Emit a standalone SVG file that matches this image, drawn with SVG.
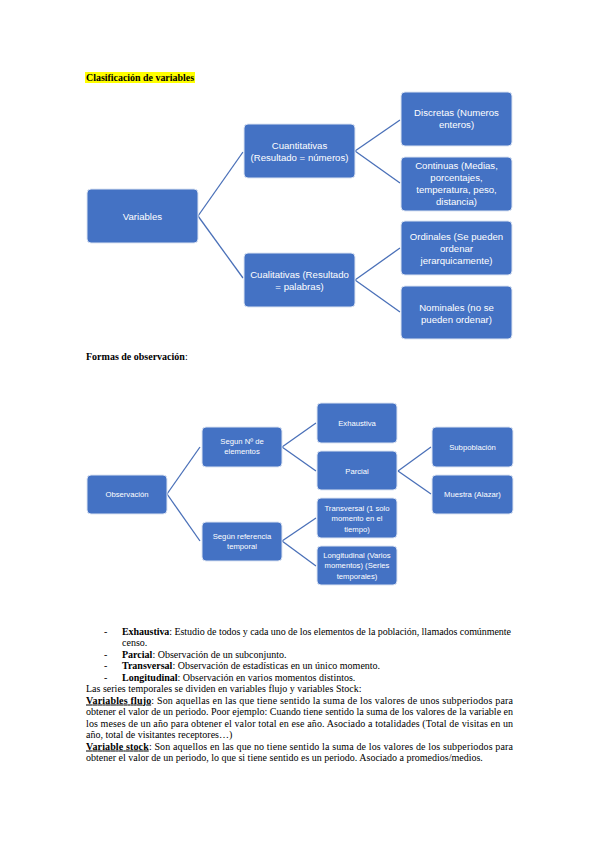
<svg xmlns="http://www.w3.org/2000/svg" width="599" height="848" viewBox="0 0 599 848">
<style>
.bx{fill:#4472C4;stroke:#DCE4F2;stroke-width:1}
.t1{font-family:"Liberation Sans",Arial,sans-serif;font-size:9.6px;fill:#fff;text-anchor:middle}
.t2{font-family:"Liberation Sans",Arial,sans-serif;font-size:7.7px;fill:#fff;text-anchor:middle}
.cn{stroke:#4A70B8;stroke-width:1.3;fill:none}
.p{font-family:"Liberation Serif","Times New Roman",serif;font-size:10px;fill:#000}
.h{font-family:"Liberation Serif","Times New Roman",serif;font-size:10.5px;font-weight:bold;fill:#000}
.b{font-weight:bold}
.u{text-decoration:underline}
</style>
<rect width="599" height="848" fill="#fff"/>
<rect x="85" y="72" width="110" height="11" fill="#FFFF00"/>
<text class="h" x="86" y="81" textLength="108" lengthAdjust="spacingAndGlyphs">Clasificación de variables</text>
<g id="connectors1">
<line class="cn" x1="198" y1="216" x2="243" y2="152"/>
<line class="cn" x1="198" y1="216" x2="243" y2="278"/>
<line class="cn" x1="355" y1="151" x2="400" y2="120"/>
<line class="cn" x1="355" y1="151" x2="400" y2="183"/>
<line class="cn" x1="355" y1="280" x2="400" y2="248"/>
<line class="cn" x1="355" y1="280" x2="400" y2="312"/>
</g>
<g id="n-variables"><rect class="bx" x="87" y="189" width="111" height="54" rx="4"/><text class="t1" x="142.5" y="219.5">Variables</text></g>
<g id="n-cuantitativas"><rect class="bx" x="244" y="124" width="111" height="54" rx="4"/><text class="t1" x="299.5" y="148.5">Cuantitativas</text><text class="t1" x="299.5" y="160.8">(Resultado = números)</text></g>
<g id="n-cualitativas"><rect class="bx" x="244" y="253" width="111" height="54" rx="4"/><text class="t1" x="299.5" y="277.5">Cualitativas (Resultado</text><text class="t1" x="299.5" y="289.8">= palabras)</text></g>
<g id="n-discretas"><rect class="bx" x="401" y="92" width="111" height="54" rx="4"/><text class="t1" x="456.5" y="115.5">Discretas (Numeros</text><text class="t1" x="456.5" y="127.8">enteros)</text></g>
<g id="n-continuas"><rect class="bx" x="401" y="157" width="111" height="54" rx="4"/><text class="t1" x="456.5" y="168.5">Continuas (Medias,</text><text class="t1" x="456.5" y="180.8">porcentajes,</text><text class="t1" x="456.5" y="193.1">temperatura, peso,</text><text class="t1" x="456.5" y="205.4">distancia)</text></g>
<g id="n-ordinales"><rect class="bx" x="401" y="221" width="111" height="54" rx="4"/><text class="t1" x="456.5" y="239.5">Ordinales (Se pueden</text><text class="t1" x="456.5" y="251.8">ordenar</text><text class="t1" x="456.5" y="264.1">jerarquicamente)</text></g>
<g id="n-nominales"><rect class="bx" x="401" y="286" width="111" height="53" rx="4"/><text class="t1" x="456.5" y="310.5">Nominales (no se</text><text class="t1" x="456.5" y="322.8">pueden ordenar)</text></g>

<text class="p" x="86" y="360"><tspan class="b">Formas de observación</tspan>:</text>
<g id="connectors2">
<line class="cn" x1="167" y1="494" x2="200" y2="447"/>
<line class="cn" x1="167" y1="494" x2="200" y2="541"/>
<line class="cn" x1="282" y1="447" x2="316" y2="423"/>
<line class="cn" x1="282" y1="447" x2="316" y2="471"/>
<line class="cn" x1="282" y1="541" x2="316" y2="518"/>
<line class="cn" x1="282" y1="541" x2="316" y2="566"/>
<line class="cn" x1="398" y1="471" x2="431" y2="447"/>
<line class="cn" x1="398" y1="471" x2="431" y2="494"/>
</g>
<g id="n-observacion"><rect class="bx" x="87" y="475" width="80" height="39" rx="4"/><text class="t2" x="127" y="496.8">Observación</text></g>
<g id="n-segun-n"><rect class="bx" x="202" y="427" width="80" height="40" rx="4"/><text class="t2" x="242" y="443.6">Segun Nº de</text><text class="t2" x="242" y="454.3">elementos</text></g>
<g id="n-segun-ref"><rect class="bx" x="202" y="522" width="80" height="39" rx="4"/><text class="t2" x="242" y="538.6">Según referencia</text><text class="t2" x="242" y="549.3">temporal</text></g>
<g id="n-exhaustiva"><rect class="bx" x="317" y="403" width="80" height="40" rx="4"/><text class="t2" x="357" y="425.8">Exhaustiva</text></g>
<g id="n-parcial"><rect class="bx" x="317" y="451" width="80" height="39" rx="4"/><text class="t2" x="357" y="473.8">Parcial</text></g>
<g id="n-transversal"><rect class="bx" x="317" y="498" width="80" height="40" rx="4"/><text class="t2" x="357" y="510.5">Transversal (1 solo</text><text class="t2" x="357" y="521">momento en el</text><text class="t2" x="357" y="531.5">tiempo)</text></g>
<g id="n-longitudinal"><rect class="bx" x="317" y="546" width="80" height="39" rx="4"/><text class="t2" x="357" y="557.5">Longitudinal (Varios</text><text class="t2" x="357" y="568">momentos) (Series</text><text class="t2" x="357" y="578.5">temporales)</text></g>
<g id="n-subpoblacion"><rect class="bx" x="432" y="427" width="81" height="40" rx="4"/><text class="t2" x="472.5" y="449.8">Subpoblación</text></g>
<g id="n-muestra"><rect class="bx" x="432" y="475" width="81" height="39" rx="4"/><text class="t2" x="472.5" y="496.8">Muestra (Alazar)</text></g>

<g id="texto">
<text class="p" x="104" y="634.5">-</text>
<text class="p" x="122" y="634.5" textLength="389" lengthAdjust="spacing"><tspan class="b">Exhaustiva</tspan>: Estudio de todos y cada uno de los elementos de la población, llamados comúnmente</text>
<text class="p" x="122" y="646">censo.</text>
<text class="p" x="104" y="657.5">-</text>
<text class="p" x="122" y="657.5"><tspan class="b">Parcial</tspan>: Observación de un subconjunto.</text>
<text class="p" x="104" y="669">-</text>
<text class="p" x="122" y="669"><tspan class="b">Transversal</tspan>: Observación de estadísticas en un único momento.</text>
<text class="p" x="104" y="680.5">-</text>
<text class="p" x="122" y="680.5"><tspan class="b">Longitudinal</tspan>: Observación en varios momentos distintos.</text>
<text class="p" x="86" y="692">Las series temporales se dividen en variables flujo y variables Stock:</text>
<text class="p" x="86" y="703.5" textLength="427" lengthAdjust="spacing"><tspan class="b u">Variables flujo</tspan>: Son aquellas en las que tiene sentido la suma de los valores de unos subperiodos para</text>
<text class="p" x="86" y="715" textLength="427" lengthAdjust="spacing">obtener el valor de un periodo. Poor ejemplo: Cuando tiene sentido la suma de los valores de la variable en</text>
<text class="p" x="86" y="726.5" textLength="427" lengthAdjust="spacing">los meses de un año para obtener el valor total en ese año. Asociado a totalidades (Total de visitas en un</text>
<text class="p" x="86" y="738">año, total de visitantes receptores…)</text>
<text class="p" x="86" y="749.5" textLength="427" lengthAdjust="spacing"><tspan class="b u">Variable stock</tspan>: Son aquellos en las que no tiene sentido la suma de los valores de los subperiodos para</text>
<text class="p" x="86" y="761">obtener el valor de un periodo, lo que si tiene sentido es un periodo. Asociado a promedios/medios.</text>
</g>
</svg>
